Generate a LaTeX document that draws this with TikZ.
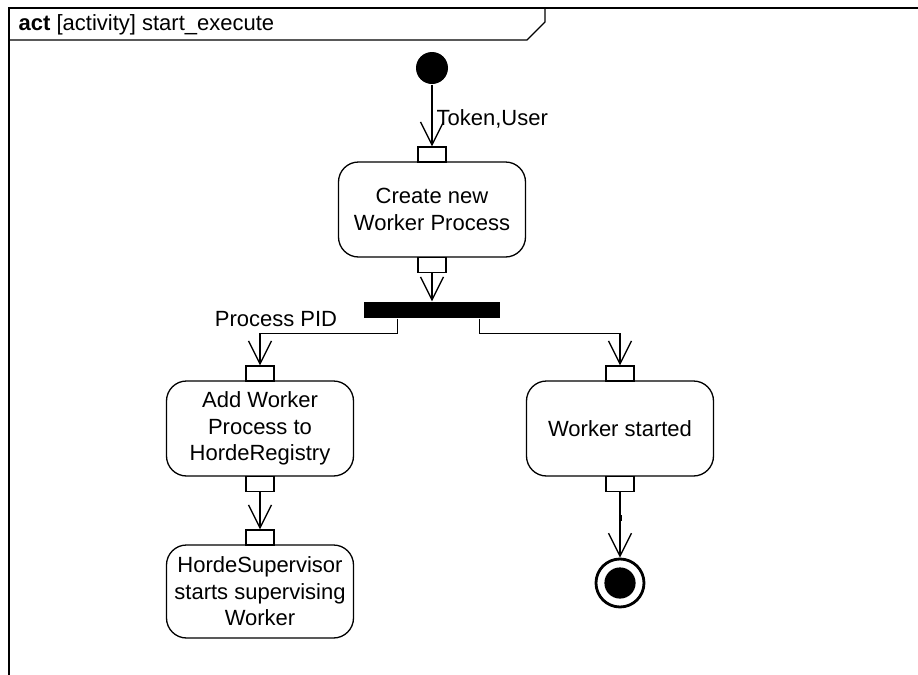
\documentclass[tikz,border=0pt]{standalone}
\usepackage{fontspec}
\setmainfont{Liberation Sans}
\usetikzlibrary{arrows.meta}
\tikzset{
  action/.style={draw, rounded corners=10pt, minimum width=93.5pt, minimum height=47.5pt, inner sep=1pt, align=center},
  pin/.style={draw, minimum width=14pt, minimum height=7.5pt, inner sep=0pt},
  flow/.style={-{Straight Barb[length=11.5pt,width=11.5pt]}},
  initnode/.style={circle, fill, minimum size=16pt, inner sep=0pt},
  finalnode/.style={circle, draw, line width=1.4pt, minimum size=24pt, inner sep=0pt,
    path picture={\fill (path picture bounding box.center) circle (7.8pt);}},
  forkbar/.style={fill, minimum width=68pt, minimum height=8pt, inner sep=0pt}
}
\begin{document}
\begin{tikzpicture}[x=0.5pt, y=-0.5pt, line width=0.65pt, font=\fontsize{11}{13.2}\selectfont]
      \useasboundingbox (0,0) rectangle (918,675);
      \draw (9,675) -- (9,8) -- (918,8);
      \draw (9,40) -- (527,40) -- (545,22) -- (545,8);
      \node[anchor=west, inner sep=0pt] (title) at (18,25) {\textbf{act} [activity] start\_execute};

      \node[initnode] (init) at (432,68) {};
      \node[pin] (pinA1) at (432,154.5) {};
      \node[action] (create) at (432,209.5) {Create new\\Worker Process};
      \node[pin] (pinA2) at (432,265) {};
      \node[forkbar] (fork) at (432,310) {};
      \node[pin] (pinB1) at (260,373.5) {};
      \node[action] (add) at (260,428.5) {Add Worker\\Process to\\HordeRegistry};
      \node[pin] (pinB2) at (260,484) {};
      \node[pin] (pinC1) at (260,537.5) {};
      \node[action, minimum height=46.5pt] (superv) at (260,591.5) {HordeSupervisor\\starts supervising\\Worker};
      \node[pin] (pinD1) at (620,373.5) {};
      \node[action] (started) at (620,428.5) {Worker started};
      \node[pin] (pinD2) at (620,484) {};
      \node[finalnode] (final) at (620,583) {};
      \node (pid) at (276,319) {Process PID};

      \begin{scope}[flow]
        \draw (init) to node[right, inner sep=2pt, yshift=-1.5pt] (token) {Token,User} (pinA1);
        \draw (pinA2) to (fork);
        \draw ([xshift=17pt]fork.south west) -- ++(0,15) -| (pinB1);
        \draw ([xshift=-10.5pt]fork.south east) -- ++(0,15) -| (pinD1);
        \draw (pinB2) to (pinC1);
        \draw (pinD2) to (final);
      \end{scope}
      \draw[line width=1.5pt] (620,515) -- (620,521);
    \end{tikzpicture}
\end{document}
